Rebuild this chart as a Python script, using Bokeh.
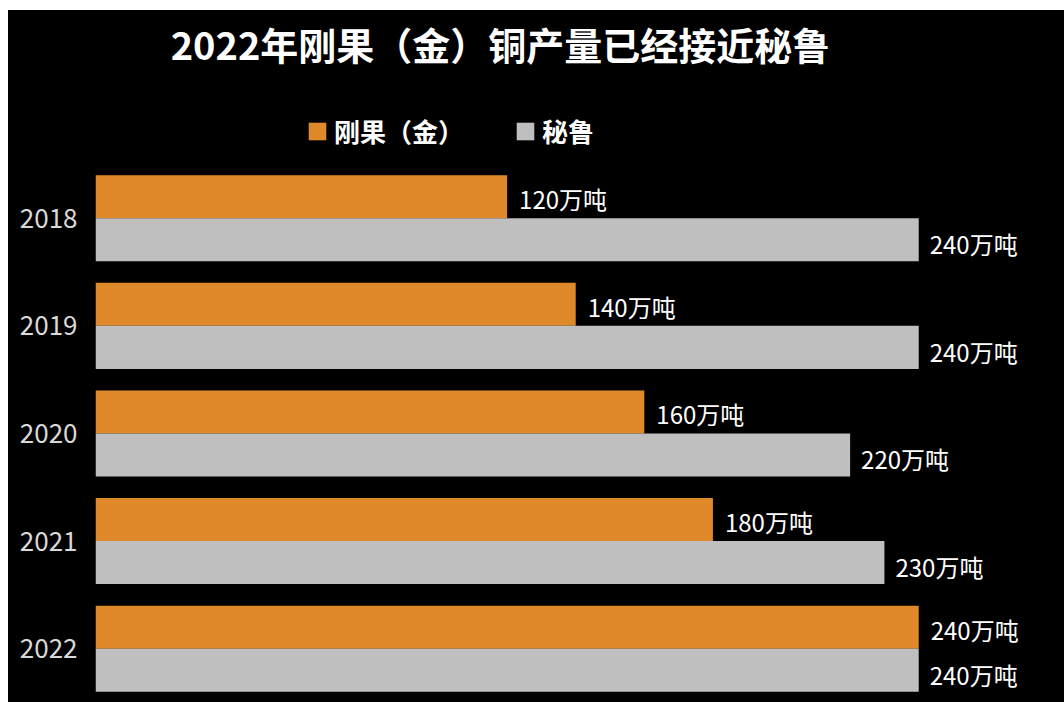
from bokeh.plotting import figure
from bokeh.models import ColumnDataSource, Range1d, Label, Legend, LegendItem, FixedTicker
from bokeh.core.properties import value
from bokeh.embed import file_html
from bokeh.resources import INLINE

# ---- data ----
years = ["2018", "2019", "2020", "2021", "2022"]
congo = [120, 140, 160, 180, 240]
peru = [240, 240, 220, 230, 240]
series_names = ["刚果（金）", "秘鲁"]
title_text = "2022年刚果（金）铜产量已经接近秘鲁"
unit = "万吨"

CJK = "Noto Sans CJK SC"
ORANGE = "#E0892A"
GRAY = "#BFBFBF"

n = len(years)
ypos = [n - 1 - i for i in range(n)]          # 2018 at top
BAR_H = 0.4
src = ColumnDataSource(dict(
    year=years,
    y_congo=[y + BAR_H / 2 for y in ypos],
    y_peru=[y - BAR_H / 2 for y in ypos],
    congo=congo,
    peru=peru,
    congo_lbl=[f"{v}{unit}" for v in congo],
    peru_lbl=[f"{v}{unit}" for v in peru],
))

W, H = 1056, 692
TOP_SPACE = 1.43   # room above the first group for title and legend (in category units)
p = figure(
    width=W, height=H,
    y_range=Range1d(-0.5, n - 0.5 + TOP_SPACE),
    x_range=Range1d(0, 282.5),
    output_backend="svg", toolbar_location=None,
    min_border_left=87, min_border_right=0,
    min_border_top=0, min_border_bottom=0,
    title=None,
)
p.styles = {"margin-left": "8px", "margin-top": "10px", "background-color": "black"}
p.background_fill_color = "black"
p.border_fill_color = "black"
p.outline_line_color = None
p.xgrid.visible = False
p.ygrid.visible = False
p.xaxis.visible = False

ya = p.yaxis[0]
ya.ticker = FixedTicker(ticks=ypos)
ya.major_label_overrides = {y: yr for y, yr in zip(ypos, years)}
ya.axis_line_color = None
ya.major_tick_line_color = None
ya.minor_tick_line_color = None
ya.major_tick_out = 0
ya.major_label_standoff = 18
ya.major_label_text_color = "#D9D9D9"
ya.major_label_text_font = CJK
ya.major_label_text_font_size = "26px"

r1 = p.hbar(y="y_congo", right="congo", left=0, height=BAR_H,
            source=src, fill_color=ORANGE, line_color=None)
r2 = p.hbar(y="y_peru", right="peru", left=0, height=BAR_H,
            source=src, fill_color=GRAY, line_color=None)

p.text(x="congo", y="y_congo", text="congo_lbl", source=src,
       x_offset=12, y_offset=2, text_color="white", text_font=value(CJK),
       text_font_size="24px", text_baseline="middle", text_align="left")
p.text(x="peru", y="y_peru", text="peru_lbl", source=src,
       x_offset=11, y_offset=4, text_color="white", text_font=value(CJK),
       text_font_size="24px", text_baseline="middle", text_align="left")

legend = Legend(
    items=[LegendItem(label=series_names[0], renderers=[r1]),
           LegendItem(label=series_names[1], renderers=[r2])],
    orientation="horizontal", location=(211, 553),
    background_fill_alpha=0, border_line_color=None,
    label_text_color="white", label_text_font=CJK, label_text_font_size="26px",
    label_text_font_style="bold", glyph_width=22, glyph_height=22,
    label_standoff=6, spacing=50, padding=0, margin=0, label_height=30,
)
p.add_layout(legend)

p.add_layout(Label(x=405, y=659, x_units="screen", y_units="screen", text=title_text,
                   text_align="center", text_baseline="middle", text_color="white",
                   text_font=CJK, text_font_size="38px", text_font_style="bold"))

open("out.html", "w").write(file_html(p, INLINE))
